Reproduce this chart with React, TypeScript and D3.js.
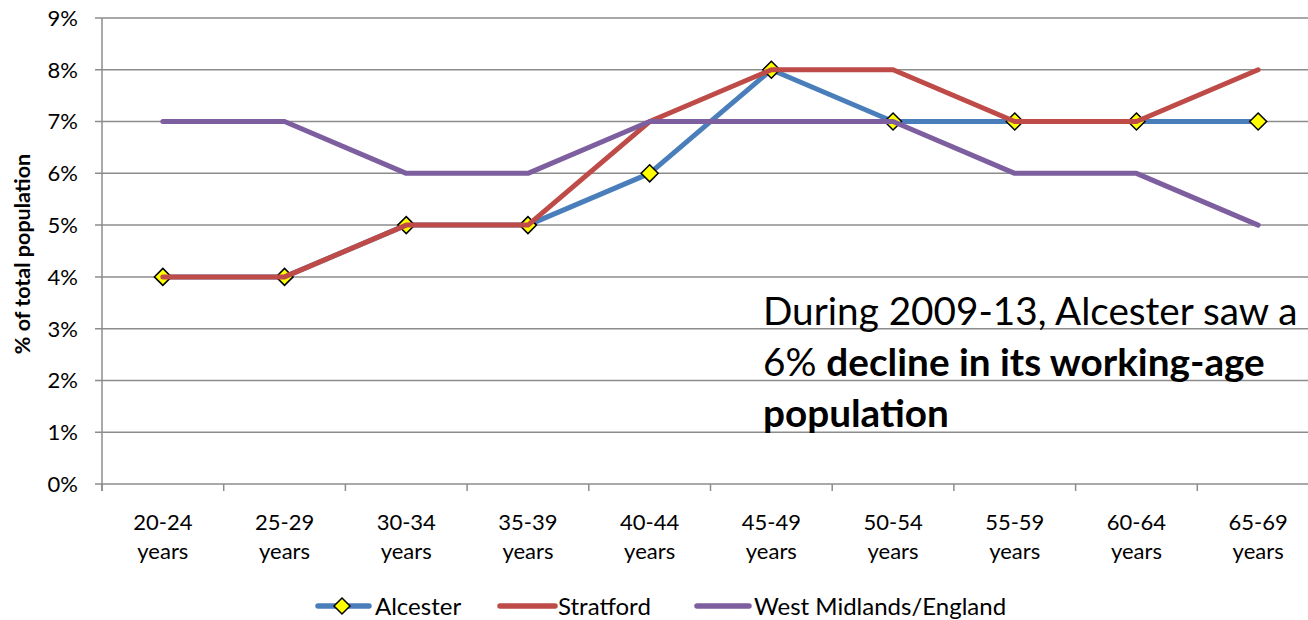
import React from "react";
import * as d3 from "d3";

const categories = ["20-24 years", "25-29 years", "30-34 years", "35-39 years", "40-44 years", "45-49 years", "50-54 years", "55-59 years", "60-64 years", "65-69 years"];
const alcester = [4, 4, 5, 5, 6, 8, 7, 7, 7, 7];
const stratford = [4, 4, 5, 5, 7, 8, 8, 7, 7, 8];
const westMidlands = [7, 7, 6, 6, 7, 7, 7, 6, 6, 5];
const yTicks = [0, 1, 2, 3, 4, 5, 6, 7, 8, 9];
const seriesNames = ["Alcester", "Stratford", "West Midlands/England"];

const W = 1308;
const H = 620;
const FONT = "Lato, 'Open Sans', sans-serif";
const BLUE = "#4a7ebb";
const RED = "#be4b48";
const PURPLE = "#7d5fa0";
const GRID = "#8c8c8c";

export default function App() {
  const left = 102;
  const right = 1319;
  const top = 18;
  const bottom = 484;
  const x = d3.scaleBand<string>().domain(categories).range([left, right]).padding(0);
  const y = d3.scaleLinear().domain([0, 9]).range([bottom, top]);
  const cx = (i: number) => (x(categories[i]) as number) + x.bandwidth() / 2;
  const line = d3
    .line<number>()
    .x((_, i) => cx(i))
    .y((d) => y(d));
  const diamond = (px: number, py: number, r: number) =>
    `M${px},${py - r}L${px + r},${py}L${px},${py + r}L${px - r},${py}Z`;

  const boundaries = categories.map((c) => x(c) as number).concat([right]);
  const LY = 606;

  return (
    <svg
      width={W}
      height={H}
      style={{ position: "absolute", left: 0, top: 0, background: "#fff" }}
      fontFamily={FONT}
    >
      {/* gridlines */}
      {yTicks.map((t) => (
        <line key={"g" + t} x1={left - 7} x2={right} y1={y(t)} y2={y(t)} stroke={GRID} strokeWidth={1.5} />
      ))}
      {/* y axis */}
      <line x1={left} x2={left} y1={top} y2={bottom + 7} stroke={GRID} strokeWidth={1.5} />
      {boundaries.map((b, i) => (
        <line key={"xt" + i} x1={b} x2={b} y1={bottom} y2={bottom + 7} stroke={GRID} strokeWidth={1.5} />
      ))}
      {yTicks.map((t) => (
        <text key={"yl" + t} x={78} y={y(t)} dy="0.36em" textAnchor="end" fontSize={22} fill="#000">
          {t + "%"}
        </text>
      ))}
      {categories.map((c, i) => {
        const parts = c.split(" ");
        return (
          <text key={"xl" + i} x={cx(i)} y={530} textAnchor="middle" fontSize={22} fill="#000">
            <tspan x={cx(i)}>{parts[0]}</tspan>
            <tspan x={cx(i)} dy={29}>{parts[1]}</tspan>
          </text>
        );
      })}
      {/* y title */}
      <text
        transform={`translate(30,${(top + bottom) / 2 + 3}) rotate(-90)`}
        textAnchor="middle"
        fontSize={21.5}
        fontWeight="bold"
        fill="#000"
      >
        % of total population
      </text>
      {/* annotation */}
      <text fontSize={38.7} fill="#000">
        <tspan x={763} y={325}>During 2009-13, Alcester saw a</tspan>
        <tspan x={763} y={376}>
          6% <tspan fontWeight="bold">decline in its working-age</tspan>
        </tspan>
        <tspan x={763} y={427} fontWeight="bold">population</tspan>
      </text>
      {/* series */}
      <path d={line(alcester) as string} fill="none" stroke={BLUE} strokeWidth={5} strokeLinejoin="round" strokeLinecap="round" />
      {alcester.map((v, i) => (
        <path key={"m" + i} d={diamond(cx(i), y(v), 8.5)} fill="#ffff00" stroke="#000" strokeWidth={1.5} />
      ))}
      <path d={line(stratford) as string} fill="none" stroke={RED} strokeWidth={5} strokeLinejoin="round" strokeLinecap="round" />
      <path d={line(westMidlands) as string} fill="none" stroke={PURPLE} strokeWidth={5} strokeLinejoin="round" strokeLinecap="round" />
      {/* legend */}
      <g>
        <line x1={318} x2={369} y1={LY} y2={LY} stroke={BLUE} strokeWidth={5.5} strokeLinecap="round" />
        <path d={diamond(342, LY, 8)} fill="#ffff00" stroke="#000" strokeWidth={1.5} />
        <text x={375} y={LY} dy="0.36em" fontSize={24} fill="#000">{seriesNames[0]}</text>
        <line x1={500} x2={555} y1={LY} y2={LY} stroke={RED} strokeWidth={5.5} strokeLinecap="round" />
        <text x={558} y={LY} dy="0.36em" fontSize={24} fill="#000">{seriesNames[1]}</text>
        <line x1={697} x2={749} y1={LY} y2={LY} stroke={PURPLE} strokeWidth={5.5} strokeLinecap="round" />
        <text x={754} y={LY} dy="0.36em" fontSize={24} fill="#000">{seriesNames[2]}</text>
      </g>
    </svg>
  );
}
